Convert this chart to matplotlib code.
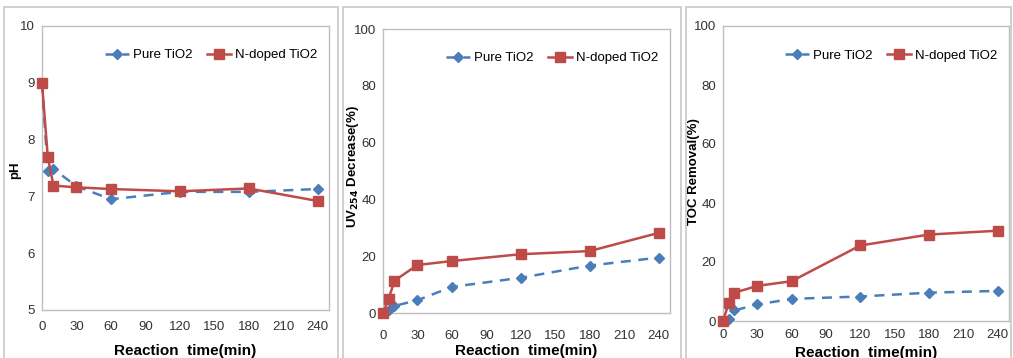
import matplotlib
matplotlib.use("Agg")
import matplotlib.pyplot as plt
from matplotlib.patches import Rectangle

plt.rcParams['font.family'] = ['Liberation Sans', 'DejaVu Sans']

# Data
time_min = [0, 5, 10, 30, 60, 120, 180, 240]

ph_pure = [9.0, 7.45, 7.48, 7.18, 6.95, 7.08, 7.08, 7.13]
ph_ndoped = [9.0, 7.70, 7.19, 7.16, 7.13, 7.09, 7.14, 6.92]

uv_pure = [0, 1.0, 2.5, 4.5, 9.2, 12.4, 16.7, 19.5]
uv_ndoped = [0, 5.1, 11.4, 16.9, 18.3, 20.7, 21.8, 28.2]

toc_pure = [0, 0.8, 3.6, 5.6, 7.5, 8.3, 9.6, 10.2]
toc_ndoped = [0, 6.0, 9.6, 11.9, 13.5, 25.6, 29.3, 30.6]

x_ticks = [0, 30, 60, 90, 120, 150, 180, 210, 240]
labels = ["Pure TiO2", "N-doped TiO2"]

BLUE = "#4a7ebb"
RED = "#be4b48"
GRID = "#bfbfbf"

W, H = 1013, 358
fig = plt.figure(figsize=(W / 100, H / 100), dpi=100)


def px_axes(left, top, right, bottom):
    return fig.add_axes([left / W, 1 - bottom / H, (right - left) / W, (bottom - top) / H])


panels = [
    # axes box px, outer frame px, data, ylim, yticks, ylabel, ylabel pos px, xlabel y px, x tick pad
    ((42, 26, 329, 310), (4, 7, 338, 362), ph_pure, ph_ndoped, (5, 10), [5, 6, 7, 8, 9, 10],
     "pH", (15, 170), 351, 8),
    ((383, 29, 670, 313), (343, 7, 681, 362), uv_pure, uv_ndoped, (0, 100), [0, 20, 40, 60, 80, 100],
     r"UV$_{\mathbf{254}}$ Decrease(%)", (353, 167), 351, 12),
    ((723, 26, 1009, 321), (686, 7, 1011, 362), toc_pure, toc_ndoped, (0, 100), [0, 20, 40, 60, 80, 100],
     "TOC Removal(%)", (694, 172), 353, 6),
]

for box, frame, pure, ndoped, ylim, yticks, ylabel, ylpos, xly, xpad in panels:
    fig.patches.append(Rectangle((frame[0] / W, 1 - frame[3] / H), (frame[2] - frame[0]) / W,
                                 (frame[3] - frame[1]) / H, transform=fig.transFigure,
                                 fill=False, edgecolor="#c8c8c8", linewidth=1.2))
    ax = px_axes(*box)
    ax.plot(time_min, pure, color=BLUE, linestyle=(0, (4, 3)), linewidth=1.8,
            marker="D", markersize=5, label=labels[0], clip_on=False, zorder=3)
    ax.plot(time_min, ndoped, color=RED, linestyle="-", linewidth=1.8,
            marker="s", markersize=7, label=labels[1], clip_on=False, zorder=4)
    ax.set_xlim(0, 250)
    ax.set_ylim(*ylim)
    ax.set_xticks(x_ticks)
    ax.set_yticks(yticks)
    ax.tick_params(length=0, labelsize=9.5, colors="#333333")
    ax.tick_params(axis="x", pad=xpad)
    ax.tick_params(axis="y", pad=5)
    for s in ax.spines.values():
        s.set_color(GRID)
        s.set_linewidth(1.0)
    ax.set_xlabel("Reaction  time(min)", fontsize=11, fontweight="bold")
    ax.set_ylabel(ylabel, fontsize=9.5, fontweight="bold")
    # place axis labels at the pixel positions seen in the reference
    bx0, by0, bw, bh = box[0], box[1], box[2] - box[0], box[3] - box[1]
    ax.yaxis.set_label_coords((ylpos[0] - bx0) / bw, 1 - (ylpos[1] - by0) / bh)
    ax.xaxis.set_label_coords(0.5, 1 - (xly - by0) / bh)
    ax.xaxis.label.set_va("center")
    ax.yaxis.label.set_va("center")
    ax.legend(loc="upper right", ncol=2, frameon=False, handlelength=1.8,
              columnspacing=1.1, handletextpad=0.3, bbox_to_anchor=(1.0, 0.96),
              prop={"size": 9.5})

fig.savefig("out.png", dpi=100)
